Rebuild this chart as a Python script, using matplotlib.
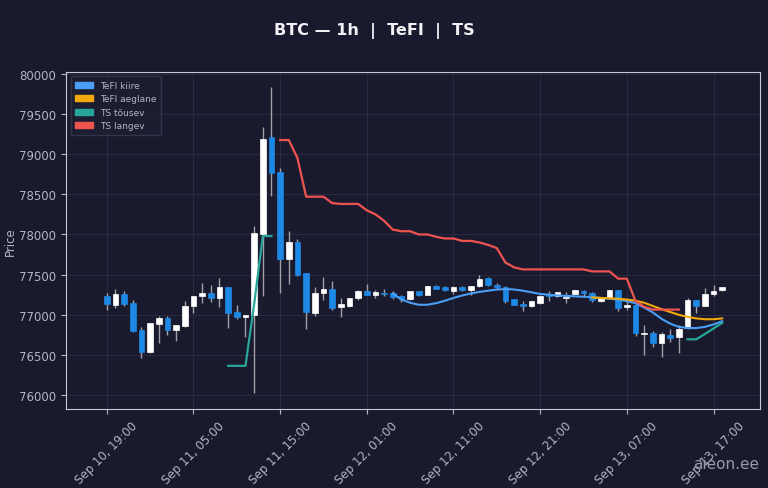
import matplotlib
matplotlib.use("Agg")
import matplotlib.pyplot as plt
import matplotlib.dates as mdates
from matplotlib.patches import Patch
import numpy as np
import pandas as pd

# 1h küünlad, Sep 10 19:00 ... Sep 13 18:00
times = pd.date_range("2025-09-10 19:00", periods=72, freq="h")

opens = [77229, 77125, 77258, 77146, 76813, 76542, 76883, 76958, 76813, 76863,
         77104, 77229, 77271, 77208, 77342, 77029, 76971, 77000, 78000, 79208,
         78779, 77700, 77904, 77521, 77021, 77267, 77321, 77096, 77113, 77208,
         77292, 77250, 77271, 77271, 77229, 77196, 77292, 77250, 77354, 77342,
         77292, 77342, 77313, 77354, 77458, 77375, 77342, 77196, 77133, 77104,
         77146, 77250, 77229, 77210, 77258, 77300, 77271, 77167, 77208, 77304,
         77096, 77125, 76760, 76779, 76646, 76750, 76721, 76833, 77188, 77104,
         77258, 77304]
closes = [77133, 77258, 77133, 76800, 76542, 76896, 76958, 76813, 76867, 77104,
          77229, 77271, 77208, 77342, 77021, 76967, 77000, 78021, 79188, 78771,
          77700, 77908, 77500, 77033, 77271, 77321, 77083, 77133, 77208, 77300,
          77250, 77283, 77258, 77221, 77196, 77292, 77250, 77354, 77325, 77313,
          77342, 77313, 77363, 77446, 77367, 77346, 77167, 77125, 77104, 77167,
          77238, 77229, 77279, 77220, 77304, 77271, 77179, 77221, 77304, 77083,
          77117, 76771, 76775, 76646, 76763, 76708, 76821, 77188, 77104, 77258,
          77300, 77346]
highs = [77271, 77321, 77292, 77188, 76854, 76900, 76988, 76979, 76870, 77167,
         77235, 77396, 77375, 77458, 77342, 77125, 77000, 78104, 79333, 79833,
         78821, 78042, 77938, 77521, 77346, 77471, 77417, 77208, 77215, 77310,
         77383, 77313, 77321, 77292, 77250, 77300, 77300, 77360, 77365, 77360,
         77354, 77355, 77363, 77500, 77470, 77396, 77354, 77200, 77175, 77170,
         77245, 77292, 77285, 77290, 77310, 77313, 77290, 77225, 77310, 77313,
         77167, 77146, 76875, 76804, 76792, 76821, 76875, 77210, 77188, 77333,
         77375, 77350]
lows = [77054, 77083, 77104, 76792, 76467, 76530, 76654, 76750, 76675, 76854,
        77021, 77146, 77158, 77096, 76842, 76950, 76729, 76021, 77229, 78479,
        77271, 77388, 77479, 76821, 76988, 77188, 77063, 76971, 77100, 77190,
        77241, 77208, 77229, 77200, 77158, 77190, 77240, 77245, 77315, 77300,
        77258, 77300, 77250, 77346, 77360, 77321, 77146, 77120, 77050, 77100,
        77140, 77175, 77225, 77146, 77255, 77229, 77165, 77160, 77200, 77042,
        77063, 76738, 76500, 76604, 76471, 76667, 76529, 76820, 77021, 77104,
        77229, 77300]

N = np.nan
tefi_fast = [N] * 33 + [
    77265, 77190, 77150, 77125, 77125, 77145, 77175, 77210, 77240, 77265,
    77285, 77300, 77315, 77320, 77315, 77300, 77280, 77260, 77250, 77240,
    77235, 77230, 77225, 77220, 77210, 77200, 77190, 77170, 77145, 77090,
    77030, 76950, 76890, 76850, 76835, 76835, 76850, 76880, 76920]
tefi_slow = [N] * 56 + [
    77215, 77210, 77205, 77200, 77190, 77175, 77150, 77110, 77070, 77035,
    77000, 76975, 76955, 76945, 76945, 76955]
ts_up = [N] * 14 + [76365, 76365, 76365, 77130, 77980, 77980] + [N] * 47 + [
    76695, 76695, 76760, 76830, 76900]
ts_down = [N] * 20 + [
    79175, 79175, 78950, 78470, 78470, 78470, 78390, 78380, 78380, 78380,
    78300, 78250, 78170, 78060, 78040, 78040, 78000, 78000, 77970, 77950,
    77950, 77920, 77920, 77900, 77870, 77830, 77650, 77590, 77565, 77565,
    77565, 77565, 77565, 77565, 77565, 77565, 77540, 77540, 77540, 77450,
    77450, 77170, 77100, 77065, 77065, 77065, 77065] + [N] * 5

BG = "#1a1a2e"
TXT = "#b4b4c2"
C_UP = "#ffffff"
C_DN = "#1e88e5"
C_FAST = "#4a9ff5"
C_SLOW = "#f0a80a"
C_TSUP = "#26a69a"
C_TSDN = "#ef5350"

fig, ax = plt.subplots(figsize=(7.68, 4.89), dpi=100)
fig.patch.set_facecolor(BG)
ax.set_facecolor(BG)
fig.subplots_adjust(left=0.086, right=0.99, top=0.851, bottom=0.162)

x = mdates.date2num(times.to_pydatetime())
o = np.array(opens, dtype=float)
c = np.array(closes, dtype=float)
h = np.array(highs, dtype=float)
lo = np.array(lows, dtype=float)
up = c >= o
colors = np.where(up, C_UP, C_DN)

# tahid ja kehad
ax.vlines(x, lo, h, color="#a0a0a8", linewidth=1.0, zorder=2)
body = np.maximum(np.abs(c - o), 6)
ax.bar(x, body, bottom=np.minimum(o, c), width=0.65 / 24, color=colors,
       edgecolor=colors, linewidth=0.5, zorder=3)

ax.plot(x, tefi_fast, color=C_FAST, linewidth=1.5, zorder=4)
ax.plot(x, tefi_slow, color=C_SLOW, linewidth=1.5, zorder=4)
ax.plot(x, ts_up, color=C_TSUP, linewidth=1.6, zorder=4)
ax.plot(x, ts_down, color=C_TSDN, linewidth=1.6, zorder=4)

ax.set_xlim(x[0] - 4.7 / 24, x[-1] + 4.4 / 24)
ax.set_yticks(np.arange(76000, 80001, 500))
ticks = pd.date_range("2025-09-10 19:00", periods=8, freq="10h")
ax.set_xticks(mdates.date2num(ticks.to_pydatetime()))
ax.xaxis.set_major_formatter(mdates.DateFormatter("%b %d, %H:%M"))
plt.setp(ax.get_xticklabels(), rotation=45, ha="center")

ax.grid(True, color="#2a2a42", linewidth=0.7)
ax.set_axisbelow(True)
for s in ax.spines.values():
    s.set_color("#c8c8d4")
ax.tick_params(colors=TXT, labelsize=8.5, length=3.5)
ax.set_ylabel("Price", color=TXT, fontsize=8.5, labelpad=2)

fig.suptitle("BTC — 1h  |  TeFI  |  TS", color="#f2f2f5", fontsize=11.5,
             fontweight="bold", x=0.488, y=0.953)

handles = [Patch(color=C_FAST, label="TeFI kiire"),
           Patch(color=C_SLOW, label="TeFI aeglane"),
           Patch(color=C_TSUP, label="TS tõusev"),
           Patch(color=C_TSDN, label="TS langev")]
leg = ax.legend(handles=handles, loc="upper left", fontsize=6.5, frameon=True,
                facecolor="#1e1e32", edgecolor="#3a3a50", labelcolor=TXT,
                handlelength=2.0, borderpad=0.5)

fig.text(0.988, 0.035, "aieon.ee", color="#9a9aa8", fontsize=11, ha="right",
         va="bottom")

fig.savefig("out.png", dpi=100, facecolor=BG)
